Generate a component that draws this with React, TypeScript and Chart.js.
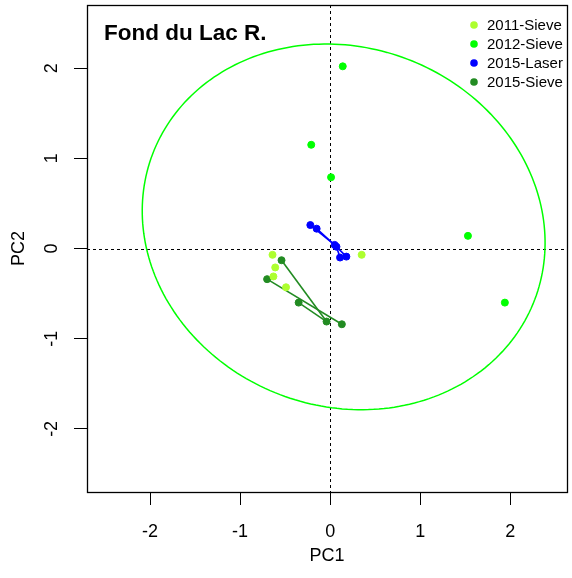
import React, { useEffect, useRef } from 'react';
import { Chart, registerables } from 'chart.js';

Chart.register(...registerables);

// ---- data ----
const groupNames = ['2011-Sieve', '2012-Sieve', '2015-Laser', '2015-Sieve'];
const groupColors = ['#ADFF2F', '#00FF00', '#0000FF', '#228B22'];

const sieve2011X = [-0.64, -0.61, -0.63, -0.49, 0.35];
const sieve2011Y = [-0.07, -0.21, -0.31, -0.43, -0.07];
const sieve2012X = [0.14, -0.21, 0.01, 1.53, 1.94];
const sieve2012Y = [2.02, 1.15, 0.79, 0.14, -0.6];
const laser2015X = [-0.22, -0.15, 0.05, 0.07, 0.11, 0.18];
const laser2015Y = [0.26, 0.22, 0.04, 0.02, -0.1, -0.09];
const sieve2015X = [-0.54, -0.7, -0.35, -0.04, 0.13];
const sieve2015Y = [-0.13, -0.34, -0.6, -0.81, -0.84];

// connecting paths (indices into each group's points)
const laser2015Paths = [[0, 2, 5], [1, 3, 4]];
const sieve2015Paths = [[0, 3], [1, 4], [2, 3]];

const xTicks = [-2, -1, 0, 1, 2];
const yTicks = [-2, -1, 0, 1, 2];
const xRange = [-2.7, 2.63];
const yRange = [-2.7, 2.7];

// 2012-Sieve ellipse parameters
const ellipseCenter = [0.15, 0.24];
const ellipseAxes = [2.27, 1.99];
const ellipseAngleDeg = -20.8;

const titleText = 'Fond du Lac R.';
const xTitle = 'PC1';
const yTitle = 'PC2';

const FONT = "'Liberation Sans', Arial, Helvetica, sans-serif";

const toPts = (xs: number[], ys: number[]) => xs.map((x, i) => ({ x, y: ys[i] }));

const groupXs = [sieve2011X, sieve2012X, laser2015X, sieve2015X];
const groupYs = [sieve2011Y, sieve2012Y, laser2015Y, sieve2015Y];

export default function App() {
  const ref = useRef<HTMLCanvasElement | null>(null);

  useEffect(() => {
    if (!ref.current) return;

    const datasets: any[] = [];
    groupNames.forEach((name, g) => {
      datasets.push({
        label: name,
        data: toPts(groupXs[g], groupYs[g]),
        backgroundColor: groupColors[g],
        borderColor: groupColors[g],
        pointRadius: 3.5,
        pointBorderWidth: 1,
        showLine: false,
        order: 1,
      });
    });
    const addPaths = (paths: number[][], g: number) => {
      paths.forEach((p) => {
        datasets.push({
          label: '',
          data: p.map((i) => ({ x: groupXs[g][i], y: groupYs[g][i] })),
          borderColor: groupColors[g],
          backgroundColor: groupColors[g],
          borderWidth: 1.6,
          pointRadius: 0,
          showLine: true,
          fill: false,
          order: 2,
        });
      });
    };
    addPaths(laser2015Paths, 2);
    addPaths(sieve2015Paths, 3);

    const decor = {
      id: 'decor',
      beforeDatasetsDraw(chart: any) {
        const { ctx, chartArea: a, scales } = chart;
        const xs = scales.x;
        const ys = scales.y;
        ctx.save();
        ctx.beginPath();
        ctx.rect(a.left, a.top, a.right - a.left, a.bottom - a.top);
        ctx.clip();
        // dashed reference lines
        ctx.strokeStyle = '#000';
        ctx.lineWidth = 1;
        ctx.setLineDash([3, 3]);
        const x0 = Math.round(xs.getPixelForValue(0)) + 0.5;
        const y0 = Math.round(ys.getPixelForValue(0)) + 0.5;
        ctx.beginPath();
        ctx.moveTo(x0, a.top);
        ctx.lineTo(x0, a.bottom);
        ctx.moveTo(a.left, y0);
        ctx.lineTo(a.right, y0);
        ctx.stroke();
        ctx.setLineDash([]);
        // ellipse
        const th = (ellipseAngleDeg * Math.PI) / 180;
        ctx.strokeStyle = groupColors[1];
        ctx.lineWidth = 1.5;
        ctx.beginPath();
        const n = 240;
        for (let k = 0; k <= n; k++) {
          const t = (k / n) * Math.PI * 2;
          const ex = ellipseCenter[0] + ellipseAxes[0] * Math.cos(th) * Math.cos(t) - ellipseAxes[1] * Math.sin(th) * Math.sin(t);
          const ey = ellipseCenter[1] + ellipseAxes[0] * Math.sin(th) * Math.cos(t) + ellipseAxes[1] * Math.cos(th) * Math.sin(t);
          const px = xs.getPixelForValue(ex);
          const py = ys.getPixelForValue(ey);
          if (k === 0) ctx.moveTo(px, py);
          else ctx.lineTo(px, py);
        }
        ctx.stroke();
        ctx.restore();
      },
      afterDraw(chart: any) {
        const { ctx, chartArea: a } = chart;
        ctx.save();
        // box
        ctx.strokeStyle = '#000';
        ctx.lineWidth = 1.3;
        ctx.strokeRect(Math.round(a.left) + 0.5, Math.round(a.top) + 0.5, Math.round(a.right - a.left), Math.round(a.bottom - a.top));
        // title
        ctx.fillStyle = '#000';
        ctx.font = `bold 22.5px ${FONT}`;
        ctx.textAlign = 'left';
        ctx.textBaseline = 'alphabetic';
        ctx.fillText(titleText, 104, 40);
        // legend
        ctx.font = `15px ${FONT}`;
        ctx.textBaseline = 'middle';
        groupNames.forEach((name, i) => {
          const y = 25 + i * 19;
          ctx.fillStyle = groupColors[i];
          ctx.beginPath();
          ctx.arc(474, y, 3.8, 0, Math.PI * 2);
          ctx.fill();
          ctx.fillStyle = '#000';
          ctx.fillText(name, 487, y + 1);
        });
        ctx.restore();
      },
    };

    const chart = new Chart(ref.current, {
      type: 'scatter',
      data: { datasets },
      options: {
        animation: false,
        responsive: false,
        maintainAspectRatio: false,
        layout: { padding: { top: 5, right: 4, left: 0, bottom: 0 } },
        plugins: {
          legend: { display: false },
          tooltip: { enabled: false },
          title: { display: false },
        },
        scales: {
          x: {
            type: 'linear',
            min: xRange[0],
            max: xRange[1],
            afterBuildTicks: (s: any) => {
              s.ticks = xTicks.map((v) => ({ value: v }));
            },
            afterFit: (s: any) => {
              s.height = 86;
              s.paddingLeft = 0;
              s.paddingRight = 0;
            },
            grid: { display: true, drawOnChartArea: false, drawTicks: true, tickLength: 13, color: '#000', lineWidth: 1 },
            border: { display: false },
            ticks: { color: '#000', font: { family: FONT, size: 18 }, padding: 16, maxRotation: 0, minRotation: 0 },
            title: { display: true, text: xTitle, color: '#000', font: { family: FONT, size: 18 }, padding: { top: 0, bottom: 11 } },
          },
          y: {
            type: 'linear',
            min: yRange[0],
            max: yRange[1],
            afterBuildTicks: (s: any) => {
              s.ticks = yTicks.map((v) => ({ value: v }));
            },
            afterFit: (s: any) => {
              s.width = 87;
              s.paddingTop = 0;
              s.paddingBottom = 0;
            },
            grid: { display: true, drawOnChartArea: false, drawTicks: true, tickLength: 13, color: '#000', lineWidth: 1 },
            border: { display: false },
            ticks: { color: '#000', font: { family: FONT, size: 18 }, padding: 14, minRotation: 90, maxRotation: 90, crossAlign: 'center' },
            title: { display: true, text: yTitle, color: '#000', font: { family: FONT, size: 18 }, padding: { top: 8, bottom: 0 } },
          },
        },
      },
      plugins: [decor],
    } as any);

    return () => chart.destroy();
  }, []);

  return (
    <div style={{ position: 'fixed', left: 0, top: 0, width: 572, height: 578, background: '#fff' }}>
      <canvas ref={ref} width={572} height={578} style={{ display: 'block', width: 572, height: 578 }} />
    </div>
  );
}
